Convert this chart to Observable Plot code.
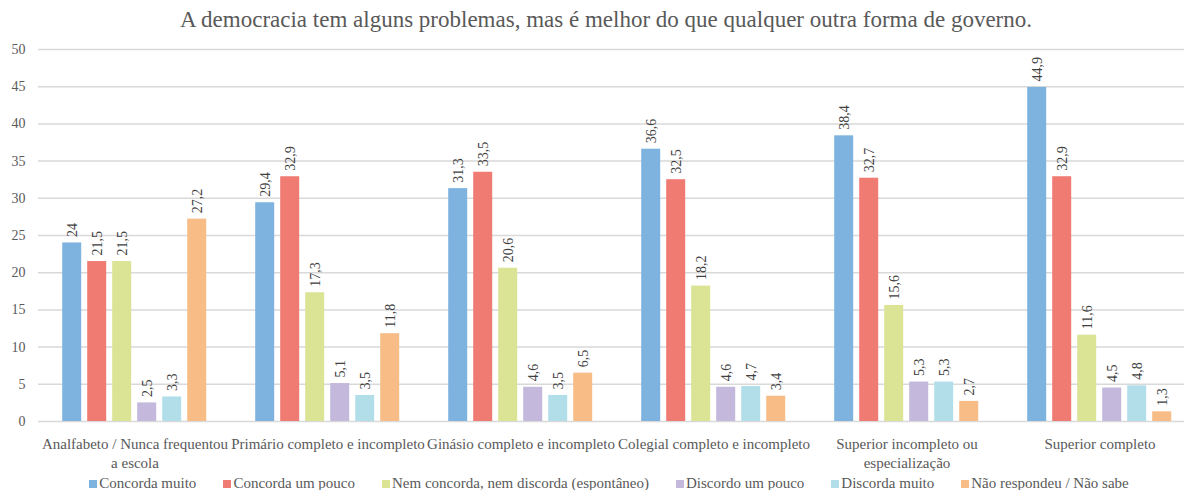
<!DOCTYPE html>
<html>
<head>
<meta charset="utf-8">
<script src="https://cdn.jsdelivr.net/npm/d3@7"></script>
<script src="https://cdn.jsdelivr.net/npm/@observablehq/plot@0.6"></script>
<style>
html, body { margin: 0; padding: 0; background: #fff; overflow: hidden; }
#wrap { position: relative; width: 1184px; height: 490px; font-family: "Liberation Serif", "Times New Roman", serif; }
#title { position: absolute; top: 0; left: 0; width: 1184px; box-sizing: border-box; padding-left: 28px; text-align: center; font-size: 23px; line-height: 39px; color: #595959; white-space: nowrap; }
#chart { position: absolute; top: 40px; left: 0; }
#legend { position: absolute; top: 470px; left: 0; width: 1184px; box-sizing: border-box; padding-left: 34px; display: flex; justify-content: center; gap: 27px; font-size: 15px; line-height: 26px; color: #595959; white-space: nowrap; }
#legend .sw { display: inline-block; width: 8px; height: 8px; margin-right: 2px; vertical-align: baseline; }
</style>
</head>
<body>
<div id="wrap">
  <div id="title">A democracia tem alguns problemas, mas é melhor do que qualquer outra forma de governo.</div>
  <div id="chart"></div>
  <div id="legend"></div>
</div>
<script>
const groups = [
  "Analfabeto / Nunca frequentou\na escola",
  "Primário completo e incompleto",
  "Ginásio completo e incompleto",
  "Colegial completo e incompleto",
  "Superior incompleto ou\nespecialização",
  "Superior completo"
];
const series = [
  "Concorda muito",
  "Concorda um pouco",
  "Nem concorda, nem discorda (espontâneo)",
  "Discordo um pouco",
  "Discorda muito",
  "Não respondeu / Não sabe"
];
const colors = ["#7eb3df", "#f07b73", "#dbe394", "#c4b9dd", "#b2deea", "#f8bd87"];
const yTicks = [0, 5, 10, 15, 20, 25, 30, 35, 40, 45, 50];

const concordaMuito   = [24, 29.4, 31.3, 36.6, 38.4, 44.9];
const concordaPouco   = [21.5, 32.9, 33.5, 32.5, 32.7, 32.9];
const nemNem          = [21.5, 17.3, 20.6, 18.2, 15.6, 11.6];
const discordoPouco   = [2.5, 5.1, 4.6, 4.6, 5.3, 4.5];
const discordaMuito   = [3.3, 3.5, 3.5, 4.7, 5.3, 4.8];
const naoSabe         = [27.2, 11.8, 6.5, 3.4, 2.7, 1.3];

const values = [concordaMuito, concordaPouco, nemNem, discordoPouco, discordaMuito, naoSabe];
const data = [];
groups.forEach((g, i) => series.forEach((s, j) => data.push({group: g, serie: s, value: values[j][i]})));
const fmt = v => String(v).replace(".", ",");

const chart = Plot.plot({
  width: 1184,
  height: 450,
  marginLeft: 36.8,
  marginRight: -13,
  marginTop: 9,
  marginBottom: 69,
  style: {fontFamily: '"Liberation Serif", "Times New Roman", serif', fontSize: "15px", color: "#595959", background: "transparent", overflow: "visible"},
  fx: {domain: groups, padding: 0, label: null},
  x: {domain: series, paddingInner: 0.225, paddingOuter: 0.859, axis: null},
  y: {domain: [0, 50], label: null},
  color: {domain: series, range: colors},
  marks: [
    Plot.gridY(yTicks, {stroke: "#d9d9d9", strokeOpacity: 1, strokeWidth: 1.5}),
    Plot.axisY(yTicks, {tickSize: 0, tickPadding: 13, fontSize: 14, label: null}),
    Plot.axisFx({anchor: "bottom", tickSize: 0, tickPadding: 14, fontSize: 15, lineHeight: 1.25, label: null}),
    Plot.barY(data, {fx: "group", x: "serie", y: "value", fill: "serie"}),
    Plot.text(data, {fx: "group", x: "serie", y: "value", text: d => fmt(d.value), rotate: -90, textAnchor: "start", lineAnchor: "middle", dy: -6, fontSize: 14, fill: "#404040"})
  ]
});
document.getElementById("chart").append(chart);

const legend = document.getElementById("legend");
series.forEach((s, j) => {
  const item = document.createElement("span");
  const sw = document.createElement("span");
  sw.className = "sw";
  sw.style.background = colors[j];
  item.append(sw, document.createTextNode(s));
  legend.append(item);
});
</script>
</body>
</html>
